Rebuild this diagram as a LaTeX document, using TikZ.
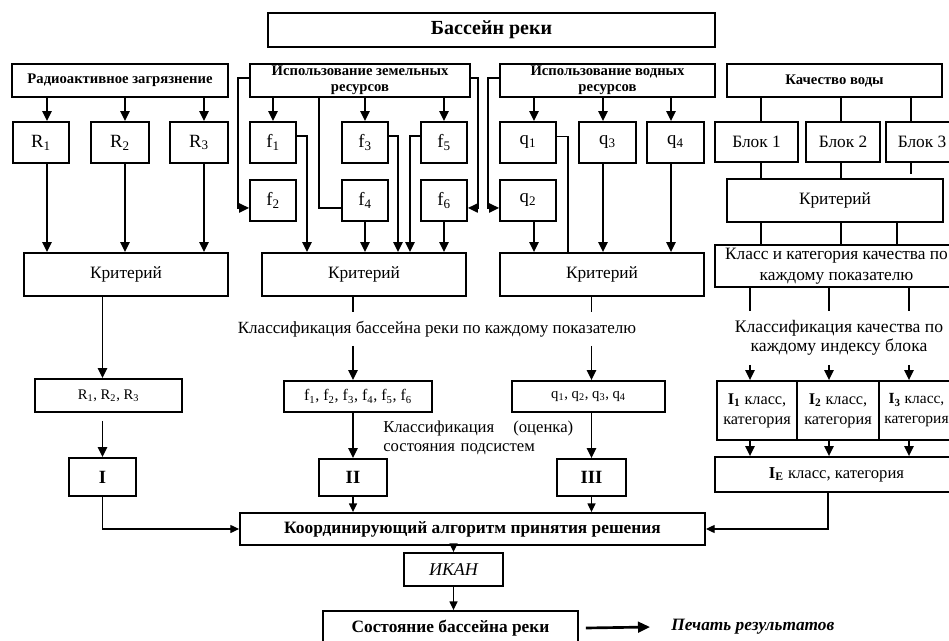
\documentclass[tikz,border=0pt]{standalone}
\usepackage{fontspec}
\setmainfont{Liberation Serif}
\usetikzlibrary{arrows.meta,calc}
\newcommand\fs[2]{\fontsize{#1}{#2}\selectfont}
\tikzset{
  box/.style={draw, line width=1.4pt, inner sep=1pt, align=center},
  ln/.style={line width=1.1pt},
  arr/.style={ln, -{Triangle[length=7.5pt,width=7pt]}},
  arrs/.style={line width=0.9pt, -{Triangle[length=6.5pt,width=6pt]}},
  thinarr/.style={line width=0.8pt, -{Triangle[length=6.5pt,width=6pt]}},
  thickarr/.style={line width=2pt, -{Triangle[length=9pt,width=8pt]}},
  lbl/.style={inner sep=0pt, align=center},
}
% \bx[options]{name}{x1}{y1}{x2}{y2}{text}  (pixel coordinates)
\newcommand\bx[7][]{\node[box,#1,minimum width={(#5-#3)*0.75pt},minimum height={(#6-#4)*0.75pt}] (#2) at ({(#3+#5)/2},{(#4+#6)/2}) {#7};}
\begin{document}
\begin{tikzpicture}[x=0.75pt,y=-0.75pt]
\useasboundingbox (0,0) rectangle (949,641);

% column coordinates
\coordinate (xR1) at (47,0);
\coordinate (xR2) at (125,0);
\coordinate (xR3) at (204,0);
\coordinate (xm) at (319,0);
\coordinate (xf1r) at (307,0);
\coordinate (xf3r) at (398,0);
\coordinate (xf5l) at (410,0);
\coordinate (xq1) at (534,0);
\coordinate (xq3) at (603,0);
\coordinate (xq4) at (671,0);
\coordinate (xq1r) at (568,0);
\coordinate (xK1) at (761,0);
\coordinate (xK2) at (841,0);
\coordinate (xK3) at (911,0);
\coordinate (xK3b) at (897,0);
\coordinate (xC1) at (750,0);
\coordinate (xC2) at (829,0);
\coordinate (xC3) at (909,0);
\coordinate (xIE) at (828,0);

% top row
\bx[font=\fs{15}{18}\bfseries]{top}{268}{13}{715}{47}{Бассейн реки}
\bx[font=\fs{11}{13}\bfseries]{rad}{12}{64}{228}{97}{Радиоактивное загрязнение}
\bx[font=\fs{11}{12}\bfseries]{land}{250}{64}{470}{97}{Использование земельных\\ресурсов}
\bx[font=\fs{11}{12}\bfseries]{water}{500}{64}{715}{97}{Использование водных\\ресурсов}
\bx[font=\fs{11}{13}\bfseries]{qual}{727}{64}{942}{97}{Качество воды}

% second row
\bx[font=\fs{14}{16}]{r1}{13}{122}{69}{163}{R\textsubscript{1}}
\bx[font=\fs{14}{16}]{r2}{91}{122}{149}{163}{R\textsubscript{2}}
\bx[font=\fs{14}{16}]{r3}{170}{122}{228}{163}{R\textsubscript{3}}
\bx[font=\fs{14}{16}]{f1}{250}{122}{296}{163}{f\textsubscript{1}}
\bx[font=\fs{14}{16}]{f3}{342}{122}{388}{163}{f\textsubscript{3}}
\bx[font=\fs{14}{16}]{f5}{421}{122}{467}{163}{f\textsubscript{5}}
\bx[font=\fs{14}{16}]{f2}{250}{180}{296}{221}{f\textsubscript{2}}
\bx[font=\fs{14}{16}]{f4}{342}{180}{388}{221}{f\textsubscript{4}}
\bx[font=\fs{14}{16}]{f6}{421}{180}{467}{221}{f\textsubscript{6}}
\bx[font=\fs{14}{16}]{q1}{500}{122}{556}{163}{q\textsubscript{1}}
\bx[font=\fs{14}{16}]{q3}{579}{122}{636}{163}{q\textsubscript{3}}
\bx[font=\fs{14}{16}]{q4}{647}{122}{704}{163}{q\textsubscript{4}}
\bx[font=\fs{14}{16}]{q2}{500}{180}{556}{221}{q\textsubscript{2}}
\bx[font=\fs{13}{16}]{b1}{715}{122}{798}{162}{Блок 1}
\bx[font=\fs{13}{16}]{b2}{806}{122}{880}{162}{Блок 2}
\bx[font=\fs{13}{16}]{b3}{886}{122}{958}{162}{Блок 3}
\bx[font=\fs{13}{15}]{crit4}{727}{179}{943}{222}{Критерий}

% criteria row
\bx[font=\fs{13}{15}]{crit1}{24}{253}{228}{296}{Критерий}
\bx[font=\fs{13}{15}]{crit2}{262}{253}{466}{296}{Критерий}
\bx[font=\fs{13}{15}]{crit3}{500}{253}{704}{296}{Критерий}
\bx[font=\fs{13}{15.5}]{cls}{715}{245}{958}{287}{Класс и категория качества по\\каждому показателю}

% classification texts
\node[lbl, font=\fs{12.8}{15}, minimum height=24.75pt] (cls1) at (437,329) {Классификация бассейна реки по каждому показателю};
\node[lbl, font=\fs{13.2}{14.5}, minimum height=39.75pt] (cls2) at (839,338) {Классификация качества по\\каждому индексу блока};

% lists row
\bx[font=\fs{11}{13}]{rl}{35}{379}{182}{412}{R\textsubscript{1}, R\textsubscript{2}, R\textsubscript{3}}
\bx[font=\fs{12}{14}]{fl}{284}{381}{432}{412}{f\textsubscript{1}, f\textsubscript{2}, f\textsubscript{3}, f\textsubscript{4}, f\textsubscript{5}, f\textsubscript{6}}
\bx[font=\fs{11}{13}]{ql}{512}{381}{665}{412}{q\textsubscript{1}, q\textsubscript{2}, q\textsubscript{3}, q\textsubscript{4}}
\bx[font=\fs{12.2}{15}]{i1}{717}{381}{797}{440}{\textbf{I\textsubscript{1}} класс,\\категория}
\bx[font=\fs{12.2}{15}]{i2}{797}{381}{879}{440}{\textbf{I\textsubscript{2}} класс,\\категория}
\bx[font=\fs{11.6}{15}]{i3}{879}{381}{954}{440}{\textbf{I\textsubscript{3}} класс,\\категория}

\node[inner sep=0pt, anchor=north west, text width=142.5pt, align=left, font=\fs{12.5}{14.3}] (sub) at (383,421) {Классификация \hfill (оценка)\\состояния подсистем};

% roman boxes
\bx[font=\fs{14}{16}\bfseries]{I}{69}{458}{136}{496}{I}
\bx[font=\fs{14}{16}\bfseries]{II}{319}{459}{387}{496}{II}
\bx[font=\fs{14}{16}\bfseries]{III}{557}{459}{626}{496}{III}
\bx[font=\fs{12.5}{15}]{ie}{715}{457}{958}{492}{\textbf{I\textsubscript{E}} класс, категория}

% bottom
\bx[font=\fs{13}{15}\bfseries]{coord}{240}{513}{705}{545}{Координирующий алгоритм принятия решения}
\bx[font=\fs{13.5}{15}\itshape]{ikan}{404}{553}{503}{586}{ИКАН}
\bx[font=\fs{13}{15}\bfseries]{state}{323}{611}{578}{645}{Состояние бассейна реки}
\node[inner sep=0pt, anchor=west, font=\fs{13}{15}\bfseries\itshape] (prt) at (671,627) {Печать результатов};

% ---------- connectors ----------
% radioactive
\foreach \r/\c in {r1/xR1, r2/xR2, r3/xR3} {
  \draw[arr] (rad.south -| \c) -- (\r.north -| \c);
  \draw[arr] (\r.south -| \c) -- (crit1.north -| \c);
}
\draw[arr] (crit1.south -| I.north) -- (rl.north -| I.north);
\draw[arr] ($(rl.south -| I.north)+(0,8)$) -- (I.north);
\draw[thinarr] (I.south) |- (coord.west);

% land
\foreach \f in {f1,f3,f5} { \draw[arr] (land.south -| \f.north) -- (\f.north); }
\draw[ln] (land.south -| xm) |- ([yshift=-5.6pt]f4.west);
\draw[arr] ([yshift=1.9pt]land.west) -- ++(-11,0) |- ([yshift=-5.6pt]f2.west);
\draw[arr] ([yshift=1.9pt]land.east) -- ++(7,0) |- ([yshift=-5.6pt]f6.east);
\draw[arr] ([yshift=4.9pt]f1.east) -| (crit2.north -| xf1r);
\draw[arr] ([yshift=4.9pt]f3.east) -| (crit2.north -| xf3r);
\draw[arr] ([yshift=4.9pt]f5.west) -| (crit2.north -| xf5l);
\draw[arr] (f4.south) -- (crit2.north -| f4.south);
\draw[arr] (f6.south) -- (crit2.north -| f6.south);
\draw[ln] (crit2.south -| II.north) -- (cls1.north -| II.north);
\draw[arr] (cls1.south -| II.north) -- (fl.north -| II.north);
\draw[arr] (fl.south -| II.north) -- (II.north);
\draw[arrs] (II.south) -- (coord.north -| II.south);

% water
\draw[arr] (water.south -| xq1) -- (q1.north -| xq1);
\draw[arr] (water.south -| xq3) -- (q3.north -| xq3);
\draw[arr] (water.south -| xq4) -- (q4.north -| xq4);
\draw[arr] ([yshift=1.9pt]water.west) -- ++(-11,0) |- ([yshift=-5.6pt]q2.west);
\draw[ln] ([yshift=4.5pt]q1.east) -| (crit3.north -| xq1r);
\draw[arr] (q2.south -| xq1) -- (crit3.north -| xq1);
\draw[arr] (q3.south -| xq3) -- (crit3.north -| xq3);
\draw[arr] (q4.south -| xq4) -- (crit3.north -| xq4);
\draw[ln] (crit3.south -| III.north) -- (cls1.north -| III.north);
\draw[arr] (cls1.south -| III.north) -- (ql.north -| III.north);
\draw[arr] (ql.south -| III.north) -- (III.north);
\draw[arrs] (III.south) -- (coord.north -| III.south);

% water quality
\draw[ln] (qual.south -| xK1) -- (b1.north -| xK1);
\draw[ln] (qual.south -| xK2) -- (b2.north -| xK2);
\draw[ln] (qual.south -| xK3) -- (b3.north -| xK3);
\draw[ln] (b1.south -| xK1) -- (crit4.north -| xK1);
\draw[ln] (b2.south -| xK2) -- (crit4.north -| xK2);
\draw[ln] (b3.south -| xK3) -- ($(crit4.north -| xK3)+(0,-4)$);
\draw[ln] (crit4.south -| xK1) -- (cls.north -| xK1);
\draw[ln] (crit4.south -| xK2) -- (cls.north -| xK2);
\draw[ln] (crit4.south -| xK3b) -- (cls.north -| xK3b);
\foreach \c/\i in {xC1/i1, xC2/i2, xC3/i3} {
  \draw[ln] (cls.south -| \c) -- (cls2.north -| \c);
  \draw[arr] (cls2.south -| \c) -- (\i.north -| \c);
  \draw[arr] (\i.south -| \c) -- (ie.north -| \c);
}
\draw[thinarr] (ie.south -| xIE) |- (coord.east);

% final
\draw[arrs] (coord.south -| ikan.north) -- (ikan.north);
\draw[arrs] (ikan.south) -- (state.north -| ikan.south);
\draw[thickarr] ($(state.east)+(7,0)$) -- ($(prt.west)+(-21,0)$);
\end{tikzpicture}
\end{document}
